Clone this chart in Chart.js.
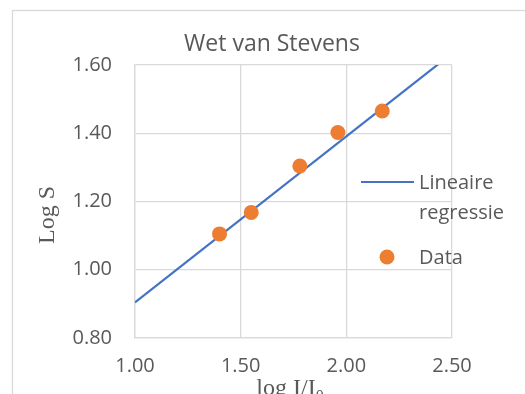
<!DOCTYPE html>
<html>
<head>
<meta charset="utf-8">
<script src="https://cdn.jsdelivr.net/npm/chart.js@4.4.1/dist/chart.umd.min.js"></script>
<style>
  html, body { margin: 0; padding: 0; background: #ffffff; }
  #wrap { position: relative; width: 525px; height: 394px; }
</style>
</head>
<body>
<div id="wrap"><canvas id="c" width="525" height="394"></canvas></div>
<script>
// ---- data ----
const chartTitle = "Wet van Stevens";
const xAxisTitle = "log I/I";
const xAxisSub = "0";
const yAxisTitle = "Log S";
const dataLabel = "Data";
const lineLabel = "Lineaire regressie";
const logI = [1.40, 1.55, 1.78, 1.96, 2.17];
const logS = [1.105, 1.168, 1.304, 1.402, 1.465];
const regX = [1.00, 2.50];
const regY = [0.904, 1.634];
const xTicks = [1.00, 1.50, 2.00, 2.50];
const yTicks = [0.80, 1.00, 1.20, 1.40, 1.60];

const textColor = "#595959";
const gridColor = "#d9d9d9";
const sansFont = "'Open Sans', 'Noto Sans', sans-serif";
const serifFont = "'Liberation Serif', 'DejaVu Serif', serif";

const decor = {
  id: 'decor',
  beforeDraw(chart) {
    const ctx = chart.ctx;
    ctx.save();
    ctx.fillStyle = '#ffffff';
    ctx.fillRect(0, 0, chart.width, chart.height);
    ctx.strokeStyle = gridColor;
    ctx.lineWidth = 1.3;
    ctx.strokeRect(12.5, 10.5, chart.width + 20, chart.height + 20);
    ctx.restore();
  },
  afterDraw(chart) {
    const ctx = chart.ctx;
    ctx.save();
    // title
    ctx.fillStyle = textColor;
    ctx.font = "23px " + sansFont;
    ctx.textAlign = 'center';
    ctx.textBaseline = 'middle';
    ctx.fillText(chartTitle, 272, 44);

    // y axis title
    ctx.save();
    ctx.translate(48, 215);
    ctx.rotate(-Math.PI / 2);
    ctx.font = "24px " + serifFont;
    ctx.textAlign = 'center';
    ctx.textBaseline = 'middle';
    ctx.fillText(yAxisTitle, 0, 0);
    ctx.restore();

    // x axis title with subscript
    ctx.font = "24px " + serifFont;
    const w1 = ctx.measureText(xAxisTitle).width;
    ctx.font = "16px " + serifFont;
    const w2 = ctx.measureText(xAxisSub).width;
    const startX = 290 - (w1 + w2) / 2;
    ctx.textAlign = 'left';
    ctx.textBaseline = 'alphabetic';
    ctx.font = "24px " + serifFont;
    ctx.fillText(xAxisTitle, startX, 395);
    ctx.font = "16px " + serifFont;
    ctx.fillText(xAxisSub, startX + w1, 401);

    // legend
    const ds = chart.data.datasets;
    const lineDs = ds[1], dotDs = ds[0];
    ctx.strokeStyle = lineDs.borderColor;
    ctx.lineWidth = 2.2;
    ctx.beginPath();
    ctx.moveTo(361, 182);
    ctx.lineTo(414, 182);
    ctx.stroke();
    ctx.fillStyle = textColor;
    ctx.font = "20px " + sansFont;
    ctx.textBaseline = 'middle';
    ctx.textAlign = 'left';
    const parts = lineDs.label.split(' ');
    ctx.fillText(parts[0], 419, 183);
    ctx.fillText(parts[1], 419, 213);
    ctx.fillStyle = dotDs.backgroundColor;
    ctx.beginPath();
    ctx.arc(387, 257, 7.5, 0, Math.PI * 2);
    ctx.fill();
    ctx.fillStyle = textColor;
    ctx.fillText(dotDs.label, 419, 258);
    ctx.restore();
  }
};

new Chart(document.getElementById('c'), {
  type: 'scatter',
  data: {
    datasets: [
      {
        label: dataLabel,
        data: logI.map((x, i) => ({ x: x, y: logS[i] })),
        backgroundColor: '#ED7D31',
        borderWidth: 0,
        pointRadius: 7.5,
        pointHoverRadius: 7.5,
        order: 0
      },
      {
        label: lineLabel,
        type: 'line',
        data: regX.map((x, i) => ({ x: x, y: regY[i] })),
        borderColor: '#4472C4',
        backgroundColor: '#4472C4',
        borderWidth: 2.2,
        pointRadius: 0,
        showLine: true,
        fill: false,
        order: 1
      }
    ]
  },
  options: {
    responsive: false,
    animation: false,
    events: [],
    layout: { padding: { top: 65, right: 73, bottom: 0, left: 0 } },
    plugins: {
      legend: { display: false },
      title: { display: false },
      tooltip: { enabled: false }
    },
    scales: {
      x: {
        type: 'linear',
        min: xTicks[0],
        max: xTicks[xTicks.length - 1],
        afterFit: s => { s.height = 56; },
        afterBuildTicks: s => { s.ticks = xTicks.map(v => ({ value: v })); },
        ticks: {
          color: textColor,
          font: { family: sansFont, size: 20 },
          padding: 16,
          callback: v => Number(v).toFixed(2)
        },
        grid: { color: gridColor, lineWidth: 1.3, drawTicks: false },
        border: { color: gridColor, width: 1.3 }
      },
      y: {
        type: 'linear',
        min: yTicks[0],
        max: yTicks[yTicks.length - 1],
        afterFit: s => { s.width = 135; },
        afterBuildTicks: s => { s.ticks = yTicks.map(v => ({ value: v })); },
        ticks: {
          color: textColor,
          font: { family: sansFont, size: 20 },
          padding: 23,
          callback: v => Number(v).toFixed(2)
        },
        grid: { color: gridColor, lineWidth: 1.3, drawTicks: false },
        border: { color: gridColor, width: 1.3 }
      }
    }
  },
  plugins: [decor]
});
</script>
</body>
</html>
